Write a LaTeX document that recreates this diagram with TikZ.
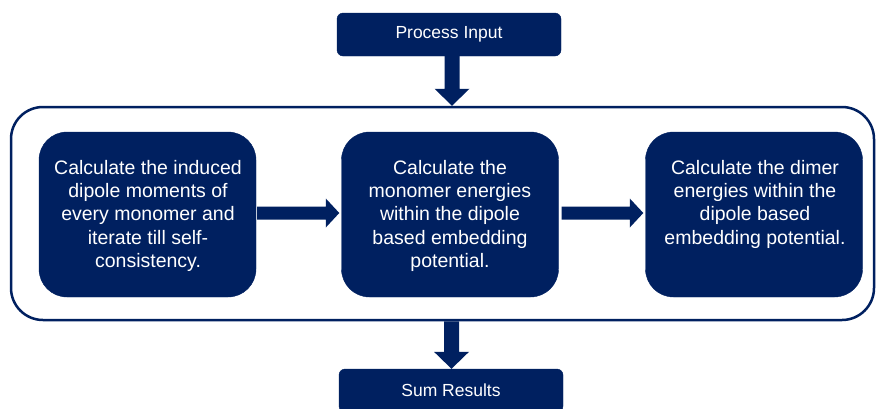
\documentclass[tikz,border=0pt]{standalone}
\usepackage{fontspec}
\setmainfont{Liberation Sans}
\usetikzlibrary{calc}
\definecolor{navy}{HTML}{002060}
\newcommand\myvarrow[2]{%
  \path[blockarrow] let \p1=(#1), \p2=(#2) in
    (\x1-7.5pt,\y1) -- (\x1+7.5pt,\y1) -- (\x1+7.5pt,\y2+17pt) -- (\x1+17.5pt,\y2+17pt)
    -- (\x1,\y2) -- (\x1-17.5pt,\y2+17pt) -- (\x1-7.5pt,\y2+17pt) -- cycle;}
\newcommand\myharrow[2]{%
  \path[blockarrow] let \p1=(#1), \p2=(#2) in
    (\x1,\y1+6.5pt) -- (\x2-13.5pt,\y1+6.5pt) -- (\x2-13.5pt,\y1+14.5pt) -- (\x2,\y1)
    -- (\x2-13.5pt,\y1-14.5pt) -- (\x2-13.5pt,\y1-6.5pt) -- (\x1,\y1-6.5pt) -- cycle;}
\begin{document}
\begin{tikzpicture}[x=1pt,y=-1pt,
  smallbox/.style={draw=navy, fill=navy, rounded corners=6pt, minimum width=224pt,
    minimum height=43pt, inner sep=0pt, text=white, font=\fontsize{17.5}{21}\selectfont},
  bigbox/.style={draw=navy, fill=navy, rounded corners=28pt, minimum width=217pt,
    minimum height=165pt, inner sep=0pt},
  boxtext/.style={text=white, align=center, anchor=north, inner sep=0pt,
    font=\fontsize{19.5}{23.3}\selectfont},
  container/.style={draw=navy, line width=2.5pt, rounded corners=32pt,
    minimum width=863pt, minimum height=213pt, inner sep=0pt},
  blockarrow/.style={fill=navy}]
\useasboundingbox (0,0) rectangle (876,408);
\node[smallbox] (pi) at (449,34.5) {Process Input};
\node[container] (outer) at (442.5,213.5) {};
\node[bigbox] (b1) at (147.5,214.5) {};
\node[bigbox] (b2) at (450,214.5) {};
\node[bigbox] (b3) at (754,214.5) {};
\node[boxtext] (t1) at (148,160) {Calculate the induced\\dipole moments of\\every monomer and\\iterate till self-\\consistency.};
\node[boxtext] (t2) at (450,160) {Calculate the\\monomer energies\\within the dipole\\based embedding\\potential.};
\node[boxtext] (t3) at (755,160) {Calculate the dimer\\energies within the\\dipole based\\embedding potential.};
\node[smallbox] (sr) at (451,390.5) {Sum Results};
\myvarrow{$(pi.south -| b2.north)+(2,0)$}{$(outer.north -| b2.north)+(2,0)$}
\myvarrow{$(outer.south -| b2.north)+(1.5,0)$}{$(sr.north -| b2.north)+(1.5,0)$}
\myharrow{$(b1.east)+(1,-1.5)$}{$(b2.west)+(-2,-1.5)$}
\myharrow{$(b2.east)+(3,-1.5)$}{$(b3.west)+(-2,-1.5)$}
\end{tikzpicture}
\end{document}
